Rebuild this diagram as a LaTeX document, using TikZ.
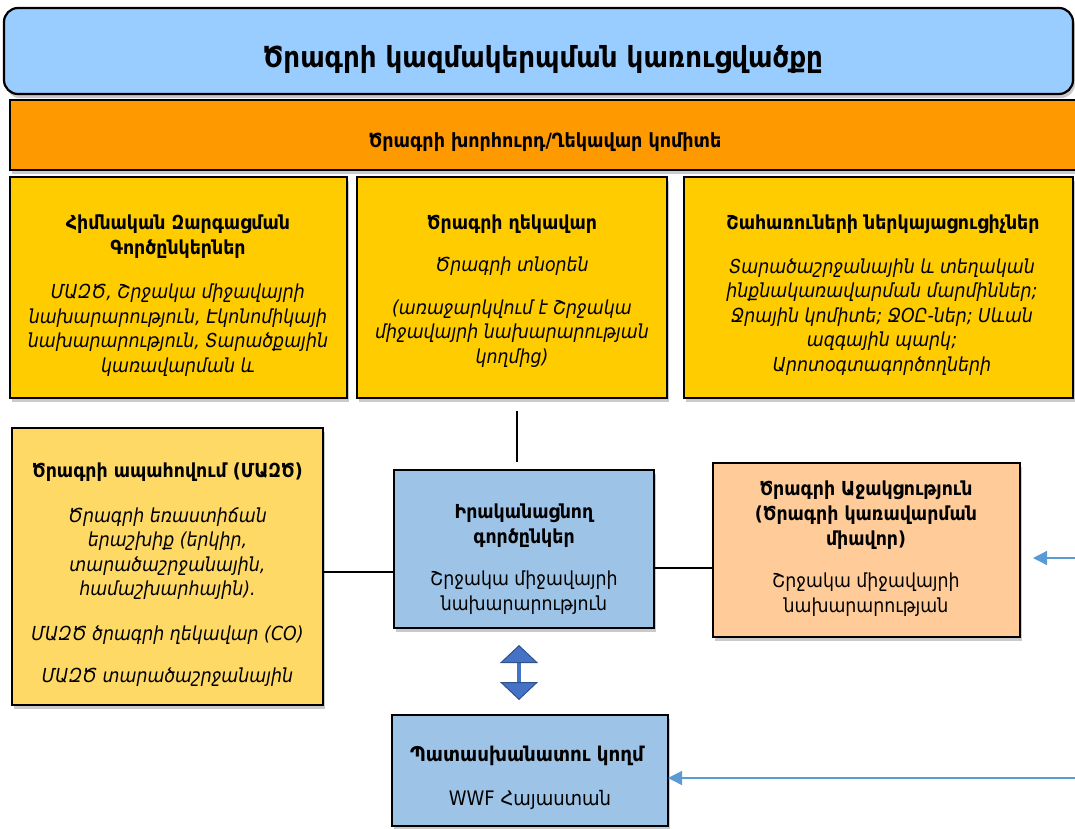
\documentclass[tikz,border=0pt]{standalone}
\usepackage{fontspec}
\setmainfont{DejaVu Sans Condensed}
\usetikzlibrary{arrows.meta,shadows}
\definecolor{titlefill}{HTML}{99CCFF}
\definecolor{boardfill}{HTML}{FF9900}
\definecolor{yellowfill}{HTML}{FFCC00}
\definecolor{assurefill}{HTML}{FFD966}
\definecolor{bluefill}{HTML}{9DC3E6}
\definecolor{peachfill}{HTML}{FFCC99}
\definecolor{linkblue}{HTML}{5B9BD5}
\definecolor{blockblue}{HTML}{4472C4}
\definecolor{blockedge}{HTML}{2F528F}
\tikzset{
  box/.style={draw=black, line width=2.2pt, anchor=north west, inner sep=0pt, outer sep=0pt,
    drop shadow={shadow xshift=2pt, shadow yshift=-4pt, opacity=0.35, fill=black!60}},
  hd/.style={font=\bfseries\fontsize{19.3}{25}\selectfont, align=center, inner sep=0pt},
  bd/.style={font=\itshape\fontsize{19.3}{24.6}\selectfont, align=center, inner sep=0pt},
  rg/.style={font=\fontsize{19.3}{25}\selectfont, align=center, inner sep=0pt},
  conn/.style={draw=black, line width=1.2pt},
  feed/.style={draw=linkblue, line width=1.3pt, -{Triangle[width=14pt,length=14pt]}},
}
\begin{document}
\begin{tikzpicture}[x=1pt,y=-1pt]
\useasboundingbox (0,0) rectangle (1075,828);
% title
\node[box, rounded corners=14pt, fill=titlefill, minimum width=1069pt, minimum height=86pt, drop shadow={opacity=0}] (title) at (4,8) {};
\node[font=\bfseries\fontsize{29}{32}\selectfont, inner sep=0pt] (titletext) at (543,60) {Ծրագրի կազմակերպման կառուցվածքը};
% board
\node[box, fill=boardfill, minimum width=1070pt, minimum height=70pt] (board) at (10,100) {};
\node[hd, font=\bfseries\fontsize{19.5}{22}\selectfont] (boardtext) at (545,142) {Ծրագրի խորհուրդ/Ղեկավար կոմիտե};
% three yellow boxes
\node[box, fill=yellowfill, minimum width=337pt, minimum height=221pt] (partners) at (10,177) {};
\node[hd] (partnershd) at (178,236.5) {Հիմնական Զարգացման\\Գործընկերներ};
\node[bd] (partnersbd) at (178,330) {ՄԱԶԾ, Շրջակա միջավայրի\\նախարարություն, Էկոնոմիկայի\\նախարարություն, Տարածքային\\կառավարման և};

\node[box, fill=yellowfill, minimum width=310pt, minimum height=221pt] (manager) at (357,177) {};
\node[hd] (managerhd) at (512,224) {Ծրագրի ղեկավար};
\node[bd] (managerbd) at (512,266) {Ծրագրի տնօրեն};
\node[bd] (managernote) at (512,333.5) {(առաջարկվում է Շրջակա\\միջավայրի նախարարության\\կողմից)};

\node[box, fill=yellowfill, minimum width=389pt, minimum height=221pt] (benef) at (684,177) {};
\node[hd] (benefhd) at (883,224) {Շահառուների ներկայացուցիչներ};
\node[bd] (benefbd) at (882,317) {Տարածաշրջանային և տեղական\\ինքնակառավարման մարմիններ;\\Ջրային կոմիտե; ՋՕԸ-ներ; Սևան\\ազգային պարկ;\\Արոտօգտագործողների};

% assurance box
\node[box, fill=assurefill, minimum width=311pt, minimum height=277pt, drop shadow={opacity=0}] (assure) at (12,428) {};
\node[hd] (assurehd) at (167.5,472) {Ծրագրի ապահովում (ՄԱԶԾ)};
\node[bd] (assurebd) at (167.5,553.5) {Ծրագրի եռաստիճան\\երաշխիք (երկիր,\\տարածաշրջանային,\\համաշխարհային).};
\node[bd] (assureco) at (167.5,635) {ՄԱԶԾ ծրագրի ղեկավար (CO)};
\node[bd] (assurereg) at (167.5,677) {ՄԱԶԾ տարածաշրջանային};

% implementing partner
\node[box, fill=bluefill, minimum width=260pt, minimum height=158pt] (impl) at (394,470) {};
\node[hd] (implhd) at (524,526) {Իրականացնող\\գործընկեր};
\node[rg] (implrg) at (524,592.5) {Շրջակա միջավայրի\\նախարարություն};

% project support
\node[box, fill=peachfill, minimum width=307pt, minimum height=174pt] (support) at (713,463) {};
\node[hd] (supporthd) at (866,515) {Ծրագրի Աջակցություն\\(Ծրագրի կառավարման\\միավոր)};
\node[rg] (supportrg) at (866,595) {Շրջակա միջավայրի\\նախարարության};

% responsible party
\node[box, fill=bluefill, minimum width=276pt, minimum height=111pt] (resp) at (392,715) {};
\node[hd, font=\bfseries\fontsize{20.3}{24}\selectfont] (resphd) at (527,756) {Պատասխանատու կողմ};
\node[rg, font=\fontsize{20}{24}\selectfont] (resprg) at (530,800) {WWF Հայաստան};

% connectors
\coordinate (vtop) at (517,411);
\coordinate (vbot) at (517,462);
\draw[conn] (vtop) -- (vbot);
\draw[conn] (assure.east |- 0,572) -- (impl.west |- 0,572);
\draw[conn] (impl.east |- 0,568) -- (support.west |- 0,568);

\coordinate (arrtop) at (519,645);
\coordinate (arrbot) at (519,700);
\draw[draw=blockblue, line width=4pt,
  {Triangle[width=38pt,length=18pt,line width=1pt,color=blockedge,fill=blockblue]}-{Triangle[width=38pt,length=18pt,line width=1pt,color=blockedge,fill=blockblue]}]
  (arrtop) -- (arrbot);

\coordinate (feedA) at (1075,558);
\coordinate (feedAend) at (1033,558);
\draw[feed] (feedA) -- (feedAend);
\coordinate (feedB) at (1075,778);
\draw[feed] (feedB) -- (resp.east |- feedB);
\end{tikzpicture}
\end{document}
